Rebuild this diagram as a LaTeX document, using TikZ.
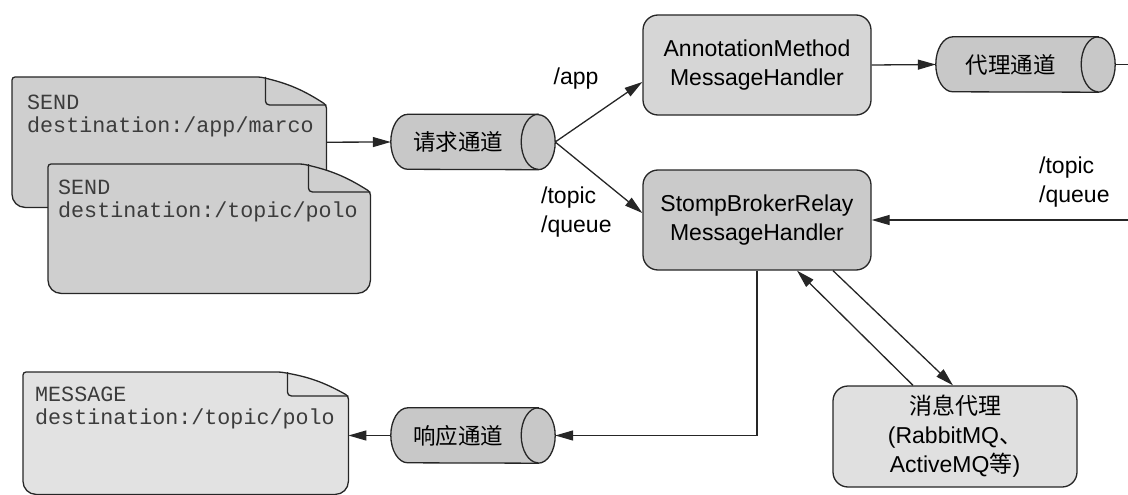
\documentclass[tikz,border=0pt]{standalone}
\usepackage{fontspec}
\setmainfont{Liberation Sans}
\setmonofont{Liberation Mono}
\newfontfamily\cjk{Noto Sans CJK SC}
\usetikzlibrary{arrows.meta,calc}
\definecolor{edgec}{HTML}{262626}
\definecolor{monotext}{HTML}{3C3C3C}
\definecolor{docfill}{HTML}{CFCFCF}
\definecolor{msgfill}{HTML}{E2E2E2}
\definecolor{annfill}{HTML}{D6D6D6}
\definecolor{stompfill}{HTML}{CACACA}
\definecolor{brokerfill}{HTML}{E0E0E0}
\definecolor{cylfill}{HTML}{C8C8C8}
\newcommand\SansBig{\fontsize{23}{29}\selectfont}
\newcommand\CjkMid{\fontsize{22.5}{27.5}\selectfont\cjk}
\newcommand\MonoTxt{\fontsize{21.7}{22.5}\selectfont\ttfamily}
% cylinder outline around a named node: #1 name, #2 fill
\newcommand\drawcyl[2]{%
  \path[line, fill=#2] ([xshift=-17pt]#1.north east) -- ([xshift=17pt]#1.north west)
    arc[start angle=90,end angle=270,x radius=17pt,y radius=27.5pt]
    -- ([xshift=-17pt]#1.south east)
    arc[start angle=-90,end angle=90,x radius=17pt,y radius=27.5pt] -- cycle;
  \draw[line] ([xshift=-17pt]#1.north east)
    arc[start angle=90,end angle=270,x radius=17pt,y radius=27.5pt];}
% document outline with folded corner: #1 name, #2 diag start, #3 inner fold x, #4 fold h, #5 fill
\newcommand\drawdoc[5]{%
  \path[line, fill=#5, rounded corners=3pt] (#1.north west)
    -- ([xshift=-#2pt]#1.north east) to[bend left=10] ([yshift=-#4pt]#1.north east)
    [rounded corners=13pt] -- (#1.south east) -- (#1.south west)
    [rounded corners=3pt] -- cycle;
  \draw[line, rounded corners=4pt] ([xshift=-#3pt]#1.north east)
    -- ([xshift=-#3pt,yshift=-#4pt]#1.north east) -- ([yshift=-#4pt]#1.north east);}
\begin{document}
\begin{tikzpicture}[x=1pt,y=-1pt,
  line/.style={draw=edgec, line width=1.3pt},
  arr/.style={line, -{Triangle[length=18pt,width=10pt]}},
  box/.style={line, rounded corners=15pt, align=center, font=\SansBig, inner sep=0pt},
  cylnode/.style={inner sep=0pt, font=\CjkMid, execute at end node={\hspace*{30pt}}},
  docnode/.style={inner sep=0pt, anchor=north west},
  mono/.style={font=\MonoTxt, text=monotext, align=left, anchor=north west, inner sep=0pt},
  lab/.style={font=\SansBig, align=left, inner sep=0pt}]
\useasboundingbox (0,0) rectangle (1128,495);

% documents
\node[docnode, minimum width=314pt, minimum height=130pt] (d1) at (12,77) {};
\drawdoc{d1}{66}{61}{28}{docfill}
\node[mono] (t1) at (27,95) {SEND\\destination:/app/marco};
\node[docnode, minimum width=322pt, minimum height=129pt] (d2) at (48,164) {};
\drawdoc{d2}{68}{62}{28}{docfill}
\node[mono] (t2) at (58,180) {SEND\\destination:/topic/polo};
\node[docnode, minimum width=325pt, minimum height=122pt] (msg) at (23,372) {};
\drawdoc{msg}{68}{61}{24}{msgfill}
\node[mono] (t3) at (35,387) {MESSAGE\\destination:/topic/polo};

% channels (cylinders)
\node[cylnode, minimum width=164pt, minimum height=55pt] (c1) at (473,142) {};
\drawcyl{c1}{cylfill}
\node[cylnode] at (c1) {请求通道};
\node[cylnode, minimum width=179pt, minimum height=55pt] (c2) at (1025.5,64.5) {};
\drawcyl{c2}{cylfill}
\node[cylnode] at (c2) {代理通道};
\node[cylnode, minimum width=164pt, minimum height=55pt] (c3) at (473,435.5) {};
\drawcyl{c3}{cylfill}
\node[cylnode] at (c3) {响应通道};

% handlers
\node[box, fill=annfill, minimum width=228pt, minimum height=100pt] (ann) at (757,65)
  {AnnotationMethod\\MessageHandler};
\node[box, fill=stompfill, minimum width=228pt, minimum height=100pt] (stomp) at (757,220)
  {StompBrokerRelay\\MessageHandler};
\node[box, fill=brokerfill, minimum width=244pt, minimum height=101pt] (broker) at (955,436.5)
  {{\cjk 消息代理}\\(RabbitMQ{\cjk 、}\\ActiveMQ{\cjk 等})};

% free ends at the right border
\coordinate (e1) at (1128,64.5);
\coordinate (e2) at (1128,220);

% connectors
\draw[arr] (d1.east) -- (c1.west);
\draw[arr] (c1.east) -- ([yshift=-17pt]ann.west);
\draw[arr] (c1.east) -- ([yshift=7pt]stomp.west);
\draw[arr] (ann.east) -- (c2.west);
\draw[line] (c2.east) -- (e1);
\draw[arr] (e2) -- (stomp.east);
\draw[arr] ([xshift=-42pt]broker.north) -- ([xshift=40pt]stomp.south);
\draw[arr] ([xshift=76pt]stomp.south) -- ([xshift=-2pt]broker.north);
\draw[arr] (stomp.south) |- (c3.east);
\draw[arr] (c3.west) -- (c3.west -| msg.east);

% labels
\node[lab] (lapp) at (576,79) {/app};
\node[lab, anchor=west] (ltq) at (541,212) {/topic\\/queue};
\node[lab, anchor=west] (ltq2) at (1039,182) {/topic\\/queue};
\end{tikzpicture}
\end{document}
